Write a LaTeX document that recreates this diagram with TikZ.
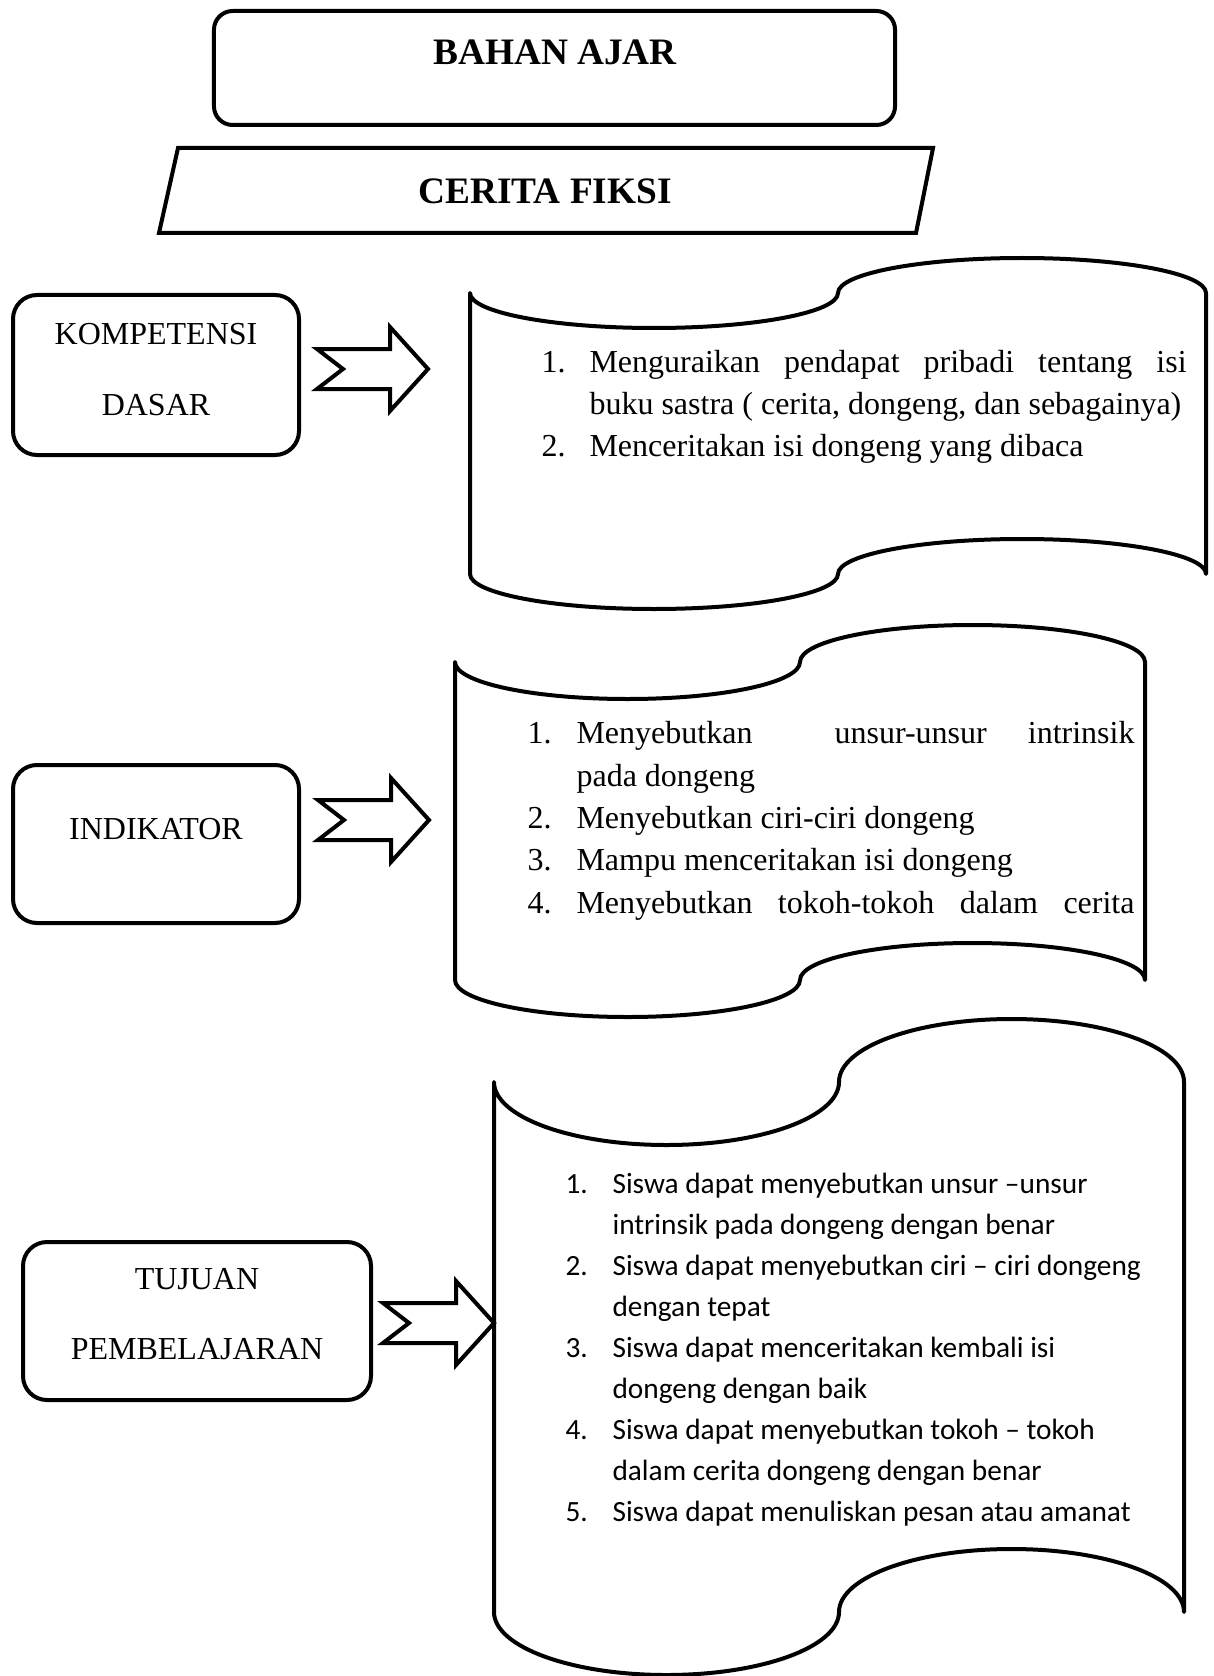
\documentclass[tikz,border=0pt]{standalone}
\usepackage{fontspec}
\setmainfont{Liberation Serif}
\newfontfamily\calibri{Carlito}
\usetikzlibrary{positioning}
\tikzset{>=stealth}
\tikzset{
  thick line/.style={line width=1.5pt,line join=round},
  box/.style={draw,thick line,rounded corners=9pt,inner sep=0pt},
  title/.style={font=\bfseries\fontsize{14}{17}\selectfont,inner sep=0pt,anchor=base},
  lbl/.style={font=\fontsize{12}{14}\selectfont,inner sep=0pt,anchor=base},
  item/.style={font=\fontsize{12}{14}\selectfont,inner sep=0pt,anchor=base west},
  citem/.style={font=\calibri\fontsize{11}{13}\selectfont,inner sep=0pt,anchor=base west}
}
% punched tape: left, right, top, bottom, wave height
\newcommand{\punchtape}[5]{%
  \pgfmathsetmacro{\tapeq}{(#2-#1)/4}
  \draw[thick line] (#1,#3)
    arc[start angle=180,end angle=0,x radius=\tapeq,y radius=#5]
    arc[start angle=180,end angle=360,x radius=\tapeq,y radius=#5]
    -- (#2,#4)
    arc[start angle=0,end angle=-180,x radius=\tapeq,y radius=#5]
    arc[start angle=0,end angle=180,x radius=\tapeq,y radius=#5]
    -- cycle;}
% notched arrow from (tail) to the right
\newcommand{\notcharrow}[1]{%
  \draw[thick line,line join=miter] (#1) ++(0,-20) -- ++(73,0) -- ++(0,-22)
    -- ++(38,42) -- ++(-38,42) -- ++(0,-22) -- ++(-73,0) -- ++(26,-20) -- cycle;}

\begin{document}
\begin{tikzpicture}[x=0.375pt,y=-0.375pt]
\useasboundingbox (0,0) rectangle (1213,1676);

% header
\node[box,rounded corners=7pt,minimum width=255.4pt,minimum height=42.75pt] (bahan) at (554.5,68) {};
\node[title] (bahant) at (555,65) {BAHAN AJAR};
\draw[thick line,line join=miter] (178,148) -- (933,148) -- (916,233) -- (159,233) -- cycle;
\node[title] (cerita) at (545,204) {CERITA FIKSI};

% kompetensi dasar
\node[box,minimum width=107.25pt,minimum height=60pt] (kd) at (156,375) {};
\node[lbl] (kd1) at (156,345) {KOMPETENSI};
\node[lbl] (kd2) at (156,415) {DASAR};
\coordinate (a1) at (317,369);
\notcharrow{a1}
\punchtape{470}{1206}{293}{574}{35}
\node[item] (k1n) at (541,372) {1.};
\node[item] (k1) at (589,372) {\makebox[223.9pt][s]{Menguraikan pendapat pribadi tentang isi}};
\node[item] (k1b) at (589,414) {buku sastra ( cerita, dongeng, dan sebagainya)};
\node[item] (k2n) at (541,456) {2.};
\node[item] (k2) at (589,456) {Menceritakan isi dongeng yang dibaca};

% indikator
\node[box,minimum width=107.25pt,minimum height=59.25pt] (ind) at (156,844) {};
\node[lbl] (indt) at (156,839) {INDIKATOR};
\coordinate (a2) at (318,820);
\notcharrow{a2}
\punchtape{455}{1145}{662}{980}{37}
\node[item] (i1n) at (527,743) {1.};
\node[item] (i1) at (576,743) {\makebox[209.25pt][s]{Menyebutkan\ \ unsur-unsur intrinsik}};
\node[item] (i1b) at (576,786) {pada dongeng};
\node[item] (i2n) at (527,828) {2.};
\node[item] (i2) at (576,828) {Menyebutkan ciri-ciri dongeng};
\node[item] (i3n) at (527,870) {3.};
\node[item] (i3) at (576,870) {Mampu menceritakan isi dongeng};
\node[item] (i4n) at (527,913) {4.};
\node[item] (i4) at (576,913) {\makebox[209.25pt][s]{Menyebutkan tokoh-tokoh dalam cerita}};

% tujuan pembelajaran
\node[box,minimum width=130.5pt,minimum height=59.25pt] (tuj) at (197,1321) {};
\node[lbl] (tuj1) at (197,1289) {TUJUAN};
\node[lbl] (tuj2) at (197,1359) {PEMBELAJARAN};
\coordinate (a3) at (383,1323);
\notcharrow{a3}
\punchtape{494}{1184}{1082}{1612}{63}
\foreach \n/\y in {1/1193,2/1275,3/1357,4/1439,5/1521}
  \node[citem] (t\n n) at (565,\y) {\n.};
\foreach \y/\txt [count=\i] in {1193/{Siswa dapat menyebutkan unsur –unsur},
    1234/{intrinsik pada dongeng dengan benar},
    1275/{Siswa dapat menyebutkan ciri – ciri dongeng},
    1316/{dengan tepat},
    1357/{Siswa dapat menceritakan kembali isi},
    1398/{dongeng dengan baik},
    1439/{Siswa dapat menyebutkan tokoh – tokoh},
    1480/{dalam cerita dongeng dengan benar},
    1521/{Siswa dapat menuliskan pesan atau amanat}}
  \node[citem] (t\i) at (612,\y) {\txt};
\end{tikzpicture}
\end{document}
